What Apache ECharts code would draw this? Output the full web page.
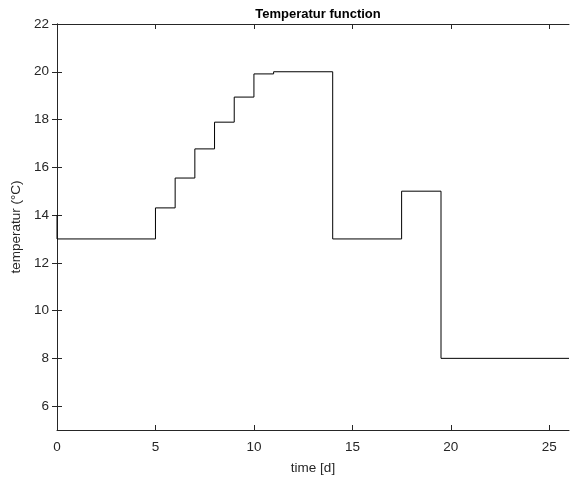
<!DOCTYPE html>
<html>
<head>
<meta charset="utf-8">
<script src="https://cdn.jsdelivr.net/npm/echarts@6/dist/echarts.min.js"></script>
<style>html,body{margin:0;padding:0;background:#fff;}#c{width:570px;height:480px;}</style>
</head>
<body>
<div id="c"></div>
<script>
const times = [0, 0, 5, 6, 7, 8, 9, 10, 11, 14, 17.5, 19.5, 26];
const temps = [14, 13, 14.3, 15.55, 16.77, 17.89, 18.94, 19.91, 20, 13, 15, 8, 8];
const xTicks = [0, 5, 10, 15, 20, 25];
const yTicks = [6, 8, 10, 12, 14, 16, 18, 20, 22];
const titleText = 'Temperatur function';
const xName = 'time [d]';
const yName = 'temperatur (°C)';

const data = times.map((t, i) => [t, temps[i]]);
const axisColor = '#262626';
const font = 'Liberation Sans, Arial, Helvetica, sans-serif';

const chart = echarts.init(document.getElementById('c'), null, {renderer: 'canvas'});
const baseAxisLine = {show: true, lineStyle: {color: axisColor, width: 1}};
chart.setOption({
  animation: false,
  title: {
    text: titleText, left: 313, top: 3, textAlign: 'center',
    textStyle: {fontFamily: font, fontSize: 13, fontWeight: 'bold', color: '#000'}
  },
  grid: {left: 57, top: 24, right: 1, bottom: 49, containLabel: false},
  xAxis: [{
    type: 'value', min: 0, max: 26, position: 'bottom',
    name: xName, nameLocation: 'middle', nameGap: 31,
    nameTextStyle: {fontFamily: font, fontSize: 13.5, color: axisColor},
    axisLine: baseAxisLine,
    axisTick: {inside: true, length: 5, customValues: xTicks, lineStyle: {color: axisColor}},
    axisLabel: {customValues: xTicks, fontFamily: font, fontSize: 13.5, color: axisColor, margin: 10},
    splitLine: {show: false}
  }, {
    type: 'value', min: 0, max: 26, position: 'top',
    axisLine: baseAxisLine,
    axisTick: {inside: true, length: 5, customValues: xTicks, lineStyle: {color: axisColor}},
    axisLabel: {show: false},
    splitLine: {show: false}
  }],
  yAxis: [{
    type: 'value', min: 5, max: 22, position: 'left',
    name: yName, nameLocation: 'middle', nameGap: 34, nameRotate: 90,
    nameTextStyle: {fontFamily: font, fontSize: 13.5, color: axisColor},
    axisLine: baseAxisLine,
    axisTick: {inside: true, length: 5, customValues: yTicks, lineStyle: {color: axisColor}},
    axisLabel: {customValues: yTicks, fontFamily: font, fontSize: 13.5, color: axisColor, margin: 8},
    splitLine: {show: false}
  }, {
    type: 'value', min: 5, max: 22, position: 'right',
    axisLine: baseAxisLine,
    axisTick: {inside: true, length: 5, customValues: yTicks, lineStyle: {color: axisColor}},
    axisLabel: {show: false},
    splitLine: {show: false}
  }],
  series: [{
    type: 'line', data: data, step: 'end', showSymbol: false, symbol: 'none',
    lineStyle: {color: '#000', width: 1}, xAxisIndex: 0, yAxisIndex: 0
  }]
});
</script>
</body>
</html>
